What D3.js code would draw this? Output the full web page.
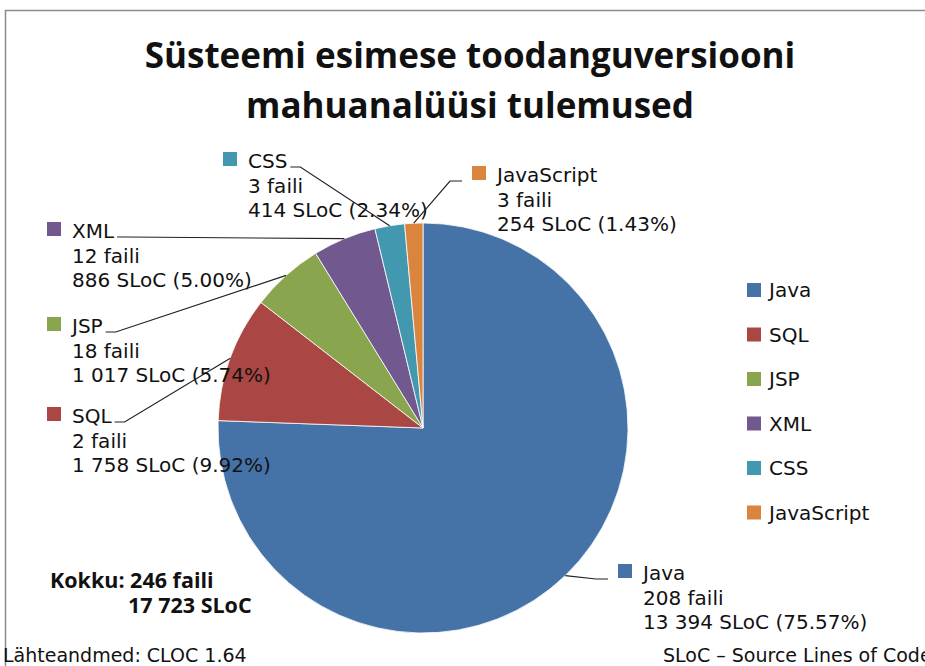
<!DOCTYPE html>
<html>
<head>
<meta charset="utf-8">
<script src="https://cdn.jsdelivr.net/npm/d3@7"></script>
<style>
  body { margin: 0; background: #fff; }
  svg text { font-family: "DejaVu Sans", "Open Sans", sans-serif; fill: #111; }
</style>
</head>
<body>
<div id="chart"></div>
<script>
// data
var languages = ["Java", "SQL", "JSP", "XML", "CSS", "JavaScript"];
var fileCounts = [208, 2, 18, 12, 3, 3];
var slocCounts = [13394, 1758, 1017, 886, 414, 254];
var colors = ["#4572A7", "#AA4643", "#89A54E", "#71588F", "#4198AF", "#DB843D"];

var titleLines = ["Süsteemi esimese toodanguversiooni", "mahuanalüüsi tulemused"];
var sourceNote = "Lähteandmed:  CLOC 1.64";
var slocNote = "SLoC – Source Lines of Code";

// chart area
var svgWidth = 925;
var svgHeight = 666;

var svg = d3.select("#chart")
  .append("svg")
  .attr("width", svgWidth)
  .attr("height", svgHeight);

// frame
svg.append("rect")
  .attr("x", 5.5)
  .attr("y", 10.5)
  .attr("width", 940)
  .attr("height", 700)
  .attr("fill", "none")
  .attr("stroke", "#8c8c8c")
  .attr("stroke-width", 1.5);

var locale = d3.formatLocale({ decimal: ".", thousands: " ", grouping: [3], currency: ["", ""] });
var fmt = locale.format(",");
var pct = d3.format(".2%");

var cenData = languages.map(function(name, i) {
  return { name: name, files: fileCounts[i], sloc: slocCounts[i], color: colors[i] };
});
var totalFiles = d3.sum(fileCounts);
var totalSloc = d3.sum(slocCounts);

// title
svg.selectAll(".title")
  .data(titleLines)
  .enter()
  .append("text")
  .attr("class", "title")
  .attr("x", 470)
  .attr("y", function(d, i) { return 68 + i * 50; })
  .attr("text-anchor", "middle")
  .style("font-family", "'Open Sans', sans-serif")
  .style("font-weight", "bold")
  .style("font-size", "35px")
  .text(function(d) { return d; });

// pie
var cx = 423, cy = 428, radius = 205;
var pie = d3.pie().sort(null).value(function(d) { return d.sloc; });
var arc = d3.arc().innerRadius(0).outerRadius(radius);
var edgeArc = d3.arc().innerRadius(radius).outerRadius(radius);

var pieGroup = svg.append("g")
  .attr("transform", `translate(${cx}, ${cy})`);

var arcs = pie(cenData);

pieGroup.selectAll("path")
  .data(arcs)
  .enter()
  .append("path")
  .attr("d", arc)
  .attr("fill", function(d) { return d.data.color; })
  .attr("stroke", "#ffffff")
  .attr("stroke-width", 0.8);

// data labels (layout positions: marker left x, first line centre y, side)
var labelPos = {
  Java:       { x: 618, y: 573, side: "right" },
  SQL:        { x: 47,  y: 416, side: "left" },
  JSP:        { x: 47,  y: 326, side: "left" },
  XML:        { x: 47,  y: 231, side: "left" },
  CSS:        { x: 223, y: 161, side: "left" },
  JavaScript: { x: 472, y: 175, side: "right" }
};
var lineStep = 24.5;

arcs.forEach(function(a) {
  var d = a.data;
  var p = labelPos[d.name];
  var g = svg.append("g").attr("class", "dataLabel");

  var lines = [d.name, d.files + " faili", fmt(d.sloc) + " SLoC (" + pct(d.sloc / totalSloc) + ")"];

  g.append("rect")
    .attr("x", p.x)
    .attr("y", p.y - 9)
    .attr("width", 14)
    .attr("height", 14)
    .attr("fill", d.color);

  var first;
  lines.forEach(function(t, i) {
    var txt = g.append("text")
      .attr("x", p.x + 25)
      .attr("y", p.y + i * lineStep)
      .attr("dy", "0.35em")
      .style("font-size", "20px")
      .text(t);
    if (i === 0) first = txt;
  });

  // leader line
  var c = edgeArc.centroid(a);
  var end = [cx + c[0], cy + c[1]];
  var by = p.y + 6;
  var pts;
  if (p.side === "left") {
    var tx = p.x + 25 + first.node().getComputedTextLength() + 3;
    pts = [[tx, by], [tx + 10, by], end];
  } else {
    pts = [[p.x - 10, by], [p.x - 22, by], end];
  }
  svg.append("path")
    .attr("d", d3.line()(pts))
    .attr("fill", "none")
    .attr("stroke", "#222")
    .attr("stroke-width", 1.2);
});

// legend
var legend = svg.append("g")
  .attr("transform", "translate(747, 290)");

var legendItems = legend.selectAll("g")
  .data(cenData)
  .enter()
  .append("g")
  .attr("transform", function(d, i) { return `translate(0, ${i * 44.5})`; });

legendItems.append("rect")
  .attr("x", 0)
  .attr("y", -7)
  .attr("width", 14)
  .attr("height", 14)
  .attr("fill", function(d) { return d.color; });

legendItems.append("text")
  .attr("x", 22)
  .attr("y", 0)
  .attr("dy", "0.35em")
  .style("font-size", "20px")
  .text(function(d) { return d.name; });

// totals
svg.append("text")
  .attr("x", 50)
  .attr("y", 580)
  .attr("dy", "0.35em")
  .style("font-family", "'Open Sans', sans-serif")
  .style("font-weight", "bold")
  .style("font-size", "21.5px")
  .text("Kokku: " + totalFiles + " faili");

svg.append("text")
  .attr("x", 128)
  .attr("y", 605)
  .attr("dy", "0.35em")
  .style("font-family", "'Open Sans', sans-serif")
  .style("font-weight", "bold")
  .style("font-size", "21.5px")
  .text(fmt(totalSloc) + " SLoC");

// footer notes
svg.append("text")
  .attr("x", 3)
  .attr("y", 655)
  .attr("dy", "0.35em")
  .style("font-size", "19px")
  .text(sourceNote);

svg.append("text")
  .attr("x", 663)
  .attr("y", 655)
  .attr("dy", "0.35em")
  .style("font-size", "19px")
  .text(slocNote);
</script>
</body>
</html>
